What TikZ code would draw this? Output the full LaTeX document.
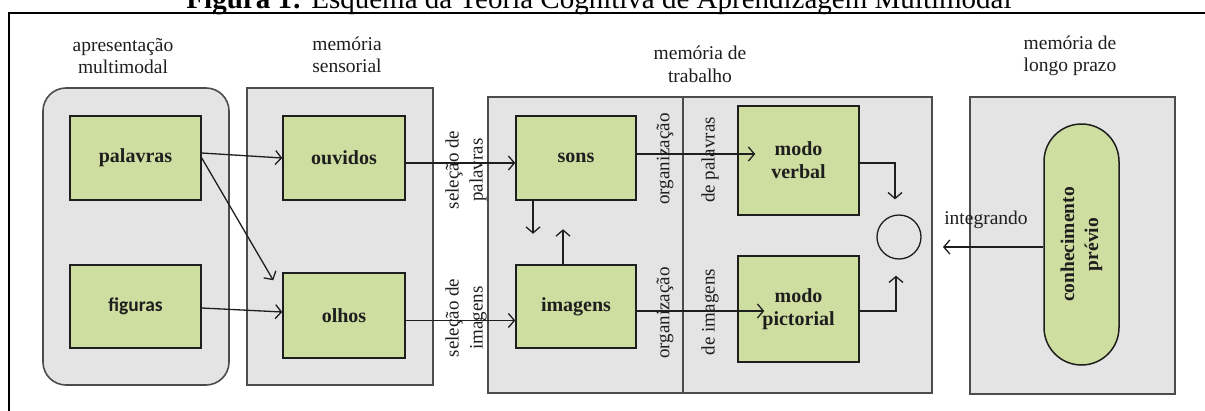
\documentclass[tikz,border=0pt]{standalone}
\usepackage{fontspec}
\setmainfont{Liberation Serif}
\newfontfamily\carl{Carlito}
\usetikzlibrary{arrows.meta}
\definecolor{grayfill}{RGB}{228,228,228}
\definecolor{greenfill}{RGB}{205,222,160}
\definecolor{inkc}{RGB}{30,30,30}
\begin{document}
\begin{tikzpicture}[x=1pt,y=-1pt,
  grp/.style={draw=black!70, line width=1.6pt, fill=grayfill, inner sep=0pt},
  gbox/.style={draw=inkc, line width=1.5pt, fill=greenfill, inner sep=0pt, align=center, text=inkc,
    font=\fontsize{20}{23}\selectfont\bfseries},
  hdr/.style={align=center, text=inkc, inner sep=0pt, font=\fontsize{19.5}{22.5}\selectfont},
  rlab/.style={rotate=90, align=center, text=inkc, inner sep=0pt, font=\fontsize{19}{24}\selectfont},
  arr/.style={draw=inkc, line width=1.3pt, -{Straight Barb[length=6pt,width=14pt,line width=1.3pt]}}
]
\useasboundingbox (0,0) rectangle (1205,410);
% title
\node[anchor=base, inner sep=0pt, text=black, font=\fontsize{29}{32}\selectfont] (title) at (599,8)
  {\textbf{Figura 1:} Esquema da Teoria Cognitiva de Aprendizagem Multimodal};
% frame
\draw[line width=2.6pt, black] (9,425) -- (9,13) -- (1220,13);
% containers
\node[grp, rounded corners=23pt, minimum width=186pt, minimum height=297pt] (pres) at (136,236.5) {};
\node[grp, minimum width=186pt, minimum height=297pt] (sens) at (340,236.5) {};
\node[grp, minimum width=444pt, minimum height=296pt] (wm) at (710,245) {};
\coordinate (dtop) at (683,97);
\coordinate (dbot) at (683,393);
\draw[black!70, line width=1.6pt] (dtop) -- (dbot);
\node[grp, minimum width=205pt, minimum height=297pt] (lt) at (1072.5,245.5) {};
% headers
\node[hdr] (h1) at (123,56) {apresentação\\multimodal};
\node[hdr] (h2) at (347,55) {memória\\sensorial};
\node[hdr] (h3) at (700,64.5) {memória de\\trabalho};
\node[hdr] (h4) at (1070,56) {memória de\\longo prazo};
% green boxes
\node[gbox, minimum width=131pt, minimum height=84pt] (palavras) at (135.5,158) {palavras};
\node[gbox, minimum width=131pt, minimum height=83pt, font={\fontsize{19.5}{22}\carl\bfseries}] (figuras) at (135.5,306.5) {figuras};
\node[gbox, minimum width=122pt, minimum height=84pt] (ouvidos) at (344,158) {ouvidos};
\node[gbox, minimum width=122pt, minimum height=85pt] (olhos) at (344,315.5) {olhos};
\node[gbox, minimum width=120pt, minimum height=84pt] (sons) at (576,158) {sons};
\node[gbox, minimum width=120pt, minimum height=83pt] (imagens) at (576,306.5) {imagens};
\node[gbox, minimum width=121pt, minimum height=109pt] (verbal) at (798.5,160.5) {modo\\verbal};
\node[gbox, minimum width=121pt, minimum height=106pt] (pictorial) at (798.5,309) {modo\\pictorial};
\node[gbox, rotate=90, rounded corners=37.5pt, minimum width=241pt, minimum height=75pt, font=\fontsize{19.5}{24}\selectfont\bfseries] (prev) at (1081.5,244.5) {conhecimento\\prévio};
\node[draw=inkc, line width=1.3pt, circle, minimum size=44pt, inner sep=0pt, fill=grayfill] (int) at (899,237) {};
% arrows
\draw[arr] ([yshift=5pt]palavras.east) -- (ouvidos.west);
\draw[arr] (palavras.east) -- ([xshift=-9pt,yshift=-8pt]olhos.north west);
\draw[arr] ([yshift=-1.5pt]figuras.east) -- ([yshift=3.5pt]olhos.west);
\draw[arr] ([yshift=-5pt]ouvidos.east) -- ([yshift=-5pt]sons.west);
\coordinate (o1) at ([yshift=-5pt]olhos.east);
\draw[arr] (o1) -- (o1 -| imagens.west);
\draw[arr] ([xshift=-43pt]sons.south) -- ++(0,33);
\draw[arr] ([xshift=-13pt]imagens.north) -- ++(0,-35);
\coordinate (s1) at ([yshift=4pt]sons.east);
\coordinate (v1) at ([xshift=18pt]verbal.west);
\draw[arr] (s1) -- (s1 -| v1);
\coordinate (i1) at ([yshift=-4.5pt]imagens.east);
\coordinate (p1) at ([xshift=27pt]pictorial.west);
\draw[arr] (i1) -- (i1 -| p1);
\coordinate (c1) at ([xshift=-4pt,yshift=15pt]int.north);
\draw[arr] ([yshift=-2.5pt]verbal.east) -| (c1);
\coordinate (c2) at ([xshift=-3pt,yshift=-16pt]int.south);
\draw[arr] ([yshift=-2pt]pictorial.east) -| (c2);
\coordinate (intin) at (943,247);
\draw[arr] (intin -| prev.north) -- (intin);
% rotated labels
\node[rlab] (selp) at (466,170) {seleção de\\palavras};
\node[rlab] (seli) at (466,318) {seleção de\\imagens};
\node[rlab] (org1) at (665,159) {organização};
\node[rlab] (dep) at (710,160) {de palavras};
\node[rlab] (org2) at (665,313) {organização};
\node[rlab] (dei) at (710,312) {de imagens};
\node[text=inkc, inner sep=0pt, font=\fontsize{19.5}{22}\selectfont] (intg) at (986,220) {integrando};
\end{tikzpicture}
\end{document}
